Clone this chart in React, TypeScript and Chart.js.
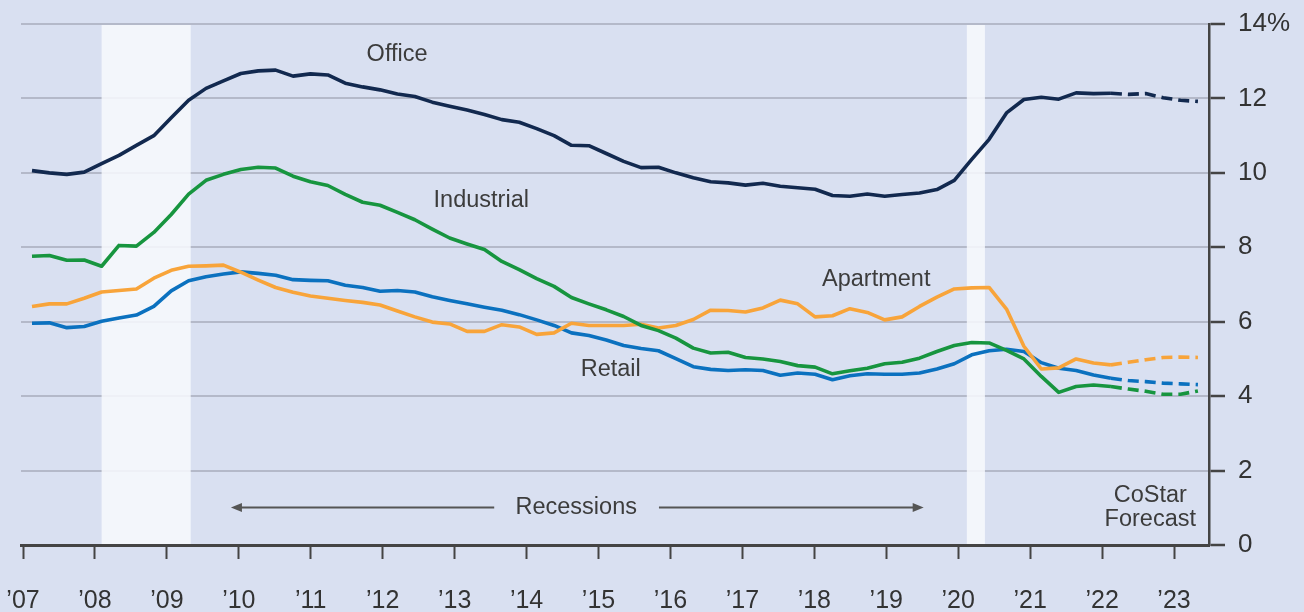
import React, { useEffect, useRef } from "react";
import { Chart, registerables } from "chart.js";

Chart.register(...registerables);

// ---- Data (quarterly vacancy rates, %, 2007Q1 .. 2023Q4) ----
const START_YEAR = 2007;
const FORECAST_START_INDEX = 62; // 2022Q3 onward is CoStar forecast (dashed)

const OFFICE = [
  10.06, 10.0, 9.96, 10.02, 10.25, 10.47, 10.74, 11.0, 11.48, 11.95,
  12.27, 12.47, 12.67, 12.74, 12.76, 12.6, 12.66, 12.63, 12.41, 12.31,
  12.23, 12.12, 12.05, 11.9, 11.79, 11.69, 11.57, 11.43, 11.36, 11.19,
  11.0, 10.74, 10.73, 10.52, 10.31, 10.14, 10.15, 10.0, 9.87, 9.76,
  9.73, 9.67, 9.72, 9.64, 9.6, 9.56, 9.39, 9.37, 9.43, 9.37,
  9.42, 9.46, 9.55, 9.8, 10.36, 10.9, 11.61, 11.97, 12.03, 11.98,
  12.15, 12.13, 12.14, 12.11, 12.13, 12.02, 11.95, 11.92,
];

const INDUSTRIAL = [
  7.76, 7.78, 7.65, 7.66, 7.49, 8.05, 8.03, 8.4, 8.88, 9.43,
  9.8, 9.96, 10.09, 10.15, 10.13, 9.91, 9.76, 9.66, 9.42, 9.21,
  9.13, 8.94, 8.74, 8.49, 8.25, 8.09, 7.94, 7.62, 7.4, 7.16,
  6.95, 6.65, 6.48, 6.32, 6.14, 5.9, 5.76, 5.56, 5.29, 5.16,
  5.18, 5.04, 5.0, 4.93, 4.82, 4.78, 4.6, 4.68, 4.75, 4.87,
  4.91, 5.02, 5.2, 5.36, 5.44, 5.43, 5.23, 5.0, 4.53, 4.1,
  4.26, 4.3, 4.26, 4.19, 4.13, 4.05, 4.05, 4.14,
];

const APARTMENT = [
  6.41, 6.48, 6.48, 6.63, 6.8, 6.84, 6.88, 7.17, 7.38, 7.49,
  7.5, 7.52, 7.33, 7.12, 6.92, 6.79, 6.69, 6.63, 6.57, 6.52,
  6.45, 6.29, 6.13, 5.99, 5.94, 5.74, 5.74, 5.92, 5.86, 5.66,
  5.7, 5.96, 5.9, 5.9, 5.9, 5.93, 5.83, 5.9, 6.06, 6.31,
  6.3, 6.26, 6.37, 6.58, 6.48, 6.13, 6.16, 6.35, 6.25, 6.05,
  6.13, 6.41, 6.66, 6.88, 6.91, 6.92, 6.34, 5.34, 4.73, 4.76,
  5.0, 4.89, 4.84, 4.91, 4.98, 5.04, 5.05, 5.04,
];

const RETAIL = [
  5.96, 5.97, 5.84, 5.87, 6.01, 6.1, 6.18, 6.41, 6.83, 7.1,
  7.21, 7.28, 7.34, 7.3, 7.25, 7.13, 7.11, 7.1, 6.98, 6.92,
  6.82, 6.84, 6.8, 6.67, 6.57, 6.48, 6.39, 6.31, 6.19, 6.05,
  5.9, 5.7, 5.63, 5.51, 5.36, 5.28, 5.22, 5.01, 4.79, 4.72,
  4.69, 4.71, 4.69, 4.56, 4.62, 4.59, 4.44, 4.55, 4.6, 4.59,
  4.59, 4.62, 4.73, 4.87, 5.11, 5.22, 5.26, 5.2, 4.9, 4.75,
  4.69, 4.57, 4.48, 4.42, 4.39, 4.35, 4.33, 4.31,
];

// Recession shading, in the data's year units
const RECESSIONS: [number, number][] = [
  [2008.0, 2009.28],
  [2020.43, 2020.69],
];

// X-axis year ticks and labels
const TICK_YEARS = [
  2007, 2008, 2009, 2010, 2011, 2012, 2013, 2014, 2015, 2016, 2017, 2018,
  2019, 2020, 2021, 2022, 2023,
];
const TICK_LABELS = [
  "\u201907", "\u201908", "\u201909", "\u201910", "\u201911", "\u201912",
  "\u201913", "\u201914", "\u201915", "\u201916", "\u201917", "\u201918",
  "\u201919", "\u201920", "\u201921", "\u201922", "\u201923",
];

// Y ticks
const Y_MIN = 0;
const Y_MAX = 14;
const Y_STEP = 2;

// Series names / colours
const SERIES = [
  { name: "Office", values: OFFICE, color: "#12294f" },
  { name: "Industrial", values: INDUSTRIAL, color: "#17953f" },
  { name: "Apartment", values: APARTMENT, color: "#f8a43a" },
  { name: "Retail", values: RETAIL, color: "#0b71bf" },
];

// Text annotations (tick-axis year, value)
const ANNOTATIONS = [
  { text: "Office", x: 2012.2, y: 13.17 },
  { text: "Industrial", x: 2013.37, y: 9.26 },
  { text: "Apartment", x: 2018.86, y: 7.14 },
  { text: "Retail", x: 2015.17, y: 4.72 },
  { text: "Recessions", x: 2014.69, y: 1.01 },
  { text: "CoStar", x: 2022.67, y: 1.34 },
  { text: "Forecast", x: 2022.67, y: 0.68 },
];
// Arrows: [tail, head] on tick axis years at value y
const ARROWS = [
  { from: 2013.55, to: 2009.89, y: 1.01 },
  { from: 2015.84, to: 2019.52, y: 1.01 },
];

const FONT = '"Liberation Sans", Arial, Helvetica, sans-serif';
const BG = "#d9e0f1";

const overlayPlugin = {
  id: "overlay",
  beforeDatasetsDraw(chart: any) {
    const { ctx, chartArea } = chart;
    const xs = chart.scales.x;
    ctx.save();
    ctx.fillStyle = "rgba(247,249,253,0.86)";
    for (const [a, b] of RECESSIONS) {
      const x0 = xs.getPixelForValue(a);
      const x1 = xs.getPixelForValue(b);
      ctx.fillRect(x0, chartArea.top + 1, x1 - x0, chartArea.bottom - chartArea.top - 2);
    }
    ctx.restore();
  },
  afterDraw(chart: any) {
    const { ctx } = chart;
    const xt = chart.scales.xt;
    const ys = chart.scales.y;
    ctx.save();
    ctx.fillStyle = "#3c3c3c";
    ctx.font = `23.5px ${FONT}`;
    ctx.textAlign = "center";
    ctx.textBaseline = "middle";
    for (const a of ANNOTATIONS) {
      ctx.fillText(a.text, xt.getPixelForValue(a.x), ys.getPixelForValue(a.y));
    }
    ctx.strokeStyle = "#555555";
    ctx.fillStyle = "#555555";
    ctx.lineWidth = 2;
    for (const ar of ARROWS) {
      const x0 = xt.getPixelForValue(ar.from);
      const x1 = xt.getPixelForValue(ar.to);
      const y = ys.getPixelForValue(ar.y);
      const dir = x1 > x0 ? 1 : -1;
      const headLen = 11;
      ctx.beginPath();
      ctx.moveTo(x0, y);
      ctx.lineTo(x1 - dir * headLen * 0.8, y);
      ctx.stroke();
      ctx.beginPath();
      ctx.moveTo(x1, y);
      ctx.lineTo(x1 - dir * headLen, y - 4.5);
      ctx.lineTo(x1 - dir * headLen, y + 4.5);
      ctx.closePath();
      ctx.fill();
    }
    ctx.restore();
  },
};

export default function App() {
  const canvasRef = useRef<HTMLCanvasElement | null>(null);

  useEffect(() => {
    const canvas = canvasRef.current;
    if (!canvas) return;

    const datasets = SERIES.map((s) => ({
      label: s.name,
      data: s.values.map((v, i) => ({ x: START_YEAR + i / 4, y: v })),
      borderColor: s.color,
      backgroundColor: s.color,
      borderWidth: 3.6,
      pointRadius: 0,
      pointHoverRadius: 0,
      tension: 0,
      fill: false,
      borderCapStyle: "butt" as const,
      borderJoinStyle: "round" as const,
      segment: {
        borderDash: (ctx: any) =>
          ctx.p0DataIndex >= FORECAST_START_INDEX ? [11, 6] : undefined,
      },
    }));

    const chart = new Chart(canvas, {
      type: "line",
      data: { datasets },
      options: {
        animation: false,
        responsive: false,
        devicePixelRatio: 1,
        layout: { padding: { left: 21, top: 24, right: 0, bottom: 0 } },
        plugins: {
          legend: { display: false },
          tooltip: { enabled: false },
        },
        events: [],
        scales: {
          x: {
            type: "linear",
            display: false,
            min: 2006.842,
            max: 2023.909,
          },
          xt: {
            type: "linear",
            position: "bottom",
            min: 2006.972,
            max: 2023.486,
            afterBuildTicks: (s: any) => {
              s.ticks = TICK_YEARS.map((v) => ({ value: v }));
            },
            afterFit: (s: any) => {
              s.height = 67;
              s.paddingLeft = 0;
              s.paddingRight = 0;
              s.paddingTop = 0;
              s.paddingBottom = 0;
            },
            grid: {
              drawOnChartArea: false,
              drawTicks: true,
              tickLength: 14,
              tickColor: "#444444",
              tickWidth: 2,
              color: "#444444",
            },
            border: { display: true, color: "#444444", width: 3 },
            ticks: {
              autoSkip: false,
              maxRotation: 0,
              minRotation: 0,
              padding: 27,
              color: "#333333",
              font: { family: FONT, size: 25 },
              callback: (value: any) => {
                const idx = TICK_YEARS.indexOf(Number(value));
                return idx >= 0 ? TICK_LABELS[idx] : "";
              },
            },
          },
          y: {
            type: "linear",
            position: "right",
            min: Y_MIN,
            max: Y_MAX,
            afterFit: (s: any) => {
              s.width = 95;
              s.paddingLeft = 0;
              s.paddingRight = 0;
              s.paddingTop = 0;
              s.paddingBottom = 0;
            },
            grid: {
              color: "#b4b9c9",
              lineWidth: 2,
              drawTicks: true,
              tickLength: 16,
              tickColor: "#444444",
              tickWidth: 2.5,
            },
            border: { display: true, color: "#444444", width: 2.5 },
            ticks: {
              stepSize: Y_STEP,
              padding: 13,
              color: "#333333",
              font: { family: FONT, size: 26 },
              callback: (value: any) =>
                Number(value) === Y_MAX ? `${value}%` : `${value}`,
            },
          },
        },
      },
      plugins: [overlayPlugin],
    });

    return () => {
      chart.destroy();
    };
  }, []);

  return (
    <div
      style={{
        position: "fixed",
        left: 0,
        top: 0,
        width: 1304,
        height: 612,
        background: BG,
        overflow: "hidden",
      }}
    >
      <canvas
        ref={canvasRef}
        width={1304}
        height={612}
        style={{ display: "block", width: 1304, height: 612 }}
      />
    </div>
  );
}
